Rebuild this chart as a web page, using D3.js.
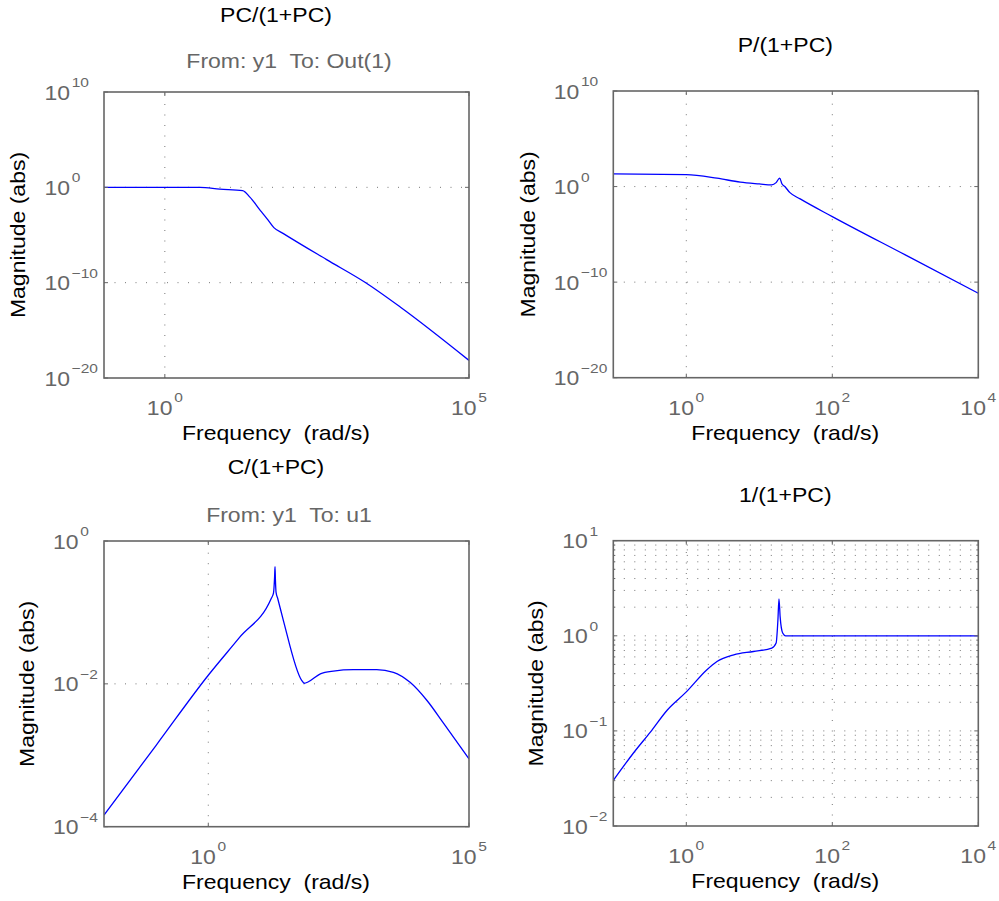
<!DOCTYPE html>
<html>
<head>
<meta charset="utf-8">
<script src="https://cdn.jsdelivr.net/npm/d3@7"></script>
<style>
  body { margin: 0; background: #fff; }
  svg text { font-family: "Liberation Sans", Arial, Helvetica, sans-serif; }
</style>
</head>
<body>
<svg id="chart" width="999" height="901" xmlns="http://www.w3.org/2000/svg"></svg>
<script>
// PC/(1+PC)
const pcFreq = [0.1, 1, 3.8, 8, 19, 25, 37, 48, 62, 89, 457, 1950, 7400, 1e5];
const pcMag  = [1, 1, 1, 0.66, 0.45, 0.095, 3.9e-3, 5e-4, 6e-5, 1.4e-5, 2.6e-8, 1.1e-10, 2.8e-13, 7e-19];
const pcXTicks = [0, 5];
const pcYTicks = [10, 0, -10, -20];

// P/(1+PC)
const ppcFreq = [0.1, 1, 2.63, 5.5, 10, 14.8, 17, 19, 20.4, 22.4, 26.3, 36.3, 100, 1000, 1e4];
const ppcMag  = [21, 18, 7.6, 2.9, 1.9, 1.5, 2.6, 7.6, 2.0, 1.0, 0.23, 0.051, 7.2e-4, 7e-8, 6.9e-12];
const ppcXTicks = [0, 2, 4];
const ppcYTicks = [10, 0, -10, -20];

// C/(1+PC)
const cpcFreq = [0.01, 0.1, 1, 3.98, 16.2, 17.8, 18.7, 19.05, 19.4, 19.95, 21.4, 27.5, 61.7, 69.2, 83.2,
                 141, 251, 603, 1700, 3550, 7410, 15500, 32400, 1e5];
const cpcMag  = [1.45e-4, 1.38e-3, 0.0132, 0.0447, 0.158, 0.186, 0.316, 0.437, 0.282, 0.191, 0.158, 0.0776,
                 0.0112, 0.0102, 0.0107, 0.0138, 0.0151, 0.0158, 0.0158, 0.0145, 0.0105, 0.00589, 0.00282, 8.9e-4];
const cpcXTicks = [0, 5];
const cpcYTicks = [0, -2, -4];

// 1/(1+PC)
const spcFreq = [0.1, 0.19, 0.324, 0.55, 1, 1.9, 2.63, 4.47, 8.3, 14.8, 17, 18, 18.6, 19.3, 20.9, 22.9, 100, 1e4];
const spcMag  = [0.0302, 0.0589, 0.0977, 0.166, 0.257, 0.437, 0.537, 0.631, 0.684, 0.741, 0.838, 1.48, 2.45,
                 1.58, 1.07, 1, 1, 1];
const spcXTicks = [0, 2, 4];
const spcYTicks = [1, 0, -1, -2];

const panels = [
  {title: 'PC/(1+PC)', sub: 'From: y1  To: Out(1)', freq: pcFreq, mag: pcMag,
   xTicks: pcXTicks, yTicks: pcYTicks, box: [104, 92, 469, 378], titleY: 21.7, subY: 67.5},
  {title: 'P/(1+PC)', sub: null, freq: ppcFreq, mag: ppcMag,
   xTicks: ppcXTicks, yTicks: ppcYTicks, box: [613.3, 91, 978.3, 377.7], xMin: -1, titleY: 51.5},
  {title: 'C/(1+PC)', sub: 'From: y1  To: u1', freq: cpcFreq, mag: cpcMag,
   xTicks: cpcXTicks, yTicks: cpcYTicks, box: [104, 541, 469, 826.7], xMin: -2, titleY: 474.3, subY: 521.5},
  {title: '1/(1+PC)', sub: null, freq: spcFreq, mag: spcMag,
   xTicks: spcXTicks, yTicks: spcYTicks, box: [613.3, 540.7, 978.3, 826], xMin: -1, titleY: 501.5, minorY: true}
];
panels[0].xMin = -1;

const SX = 1.15;           // glyphs are a bit wider than Arial
const GRAY = '#666';

const svg = d3.select('#chart');

function _text(g, x, y, str, size, fill, anchor, rotate) {
  return g.append('text')
      .attr('transform', 'translate(' + x + ',' + y + ')' + (rotate ? ' rotate(-90)' : '') + ' scale(' + SX + ',1)')
      .attr('text-anchor', anchor || 'middle')
      .attr('font-size', size)
      .attr('fill', fill)
      .style('white-space', 'pre')
      .text(str);
}

function _pow(g, x, y, e, anchor) {
  const t = g.append('text')
      .attr('transform', 'translate(' + x + ',' + y + ') scale(' + SX + ',1)')
      .attr('text-anchor', anchor)
      .attr('font-size', 20)
      .attr('fill', GRAY);
  t.append('tspan').text('10');
  t.append('tspan').attr('dx', 1.5).attr('dy', -12.5).attr('font-size', 13.5)
      .text(e < 0 ? '\u2212' + (-e) : String(e));
  return t;
}

panels.forEach((p, i) => {
  const [x0, y0, x1, y1] = p.box;
  const xLo = p.xMin, xHi = d3.max(p.xTicks);
  const yHi = d3.max(p.yTicks), yLo = d3.min(p.yTicks);
  const x = d3.scaleLog().domain([Math.pow(10, xLo), Math.pow(10, xHi)]).range([x0, x1]);
  const y = d3.scaleLog().domain([Math.pow(10, yLo), Math.pow(10, yHi)]).range([y1, y0]);
  const g = svg.append('g');

  // grid
  const grid = g.append('g').attr('stroke', '#777').attr('stroke-width', 1).attr('stroke-dasharray', '1,9.5');
  p.xTicks.filter(e => e > xLo && e < xHi).forEach(e => {
    grid.append('line').attr('x1', x(Math.pow(10, e))).attr('x2', x(Math.pow(10, e)))
        .attr('y1', y1).attr('y2', y0);
  });
  let yGrid = p.yTicks.filter(e => e > yLo && e < yHi).map(e => Math.pow(10, e));
  let yMinor = [];
  if (p.minorY) {
    d3.range(yLo, yHi).forEach(e => d3.range(2, 10).forEach(m => yMinor.push(m * Math.pow(10, e))));
    yGrid = yGrid.concat(yMinor);
  }
  yGrid.forEach(v => {
    grid.append('line').attr('x1', x0).attr('x2', x1).attr('y1', y(v)).attr('y2', y(v));
  });

  // curve
  const clipId = 'clip' + i;
  g.append('clipPath').attr('id', clipId).append('rect')
      .attr('x', x0).attr('y', y0).attr('width', x1 - x0).attr('height', y1 - y0);
  const line = d3.line().x(d => x(d[0])).y(d => y(d[1])).curve(d3.curveMonotoneX);
  g.append('path')
      .datum(d3.zip(p.freq, p.mag))
      .attr('clip-path', 'url(#' + clipId + ')')
      .attr('d', line)
      .attr('fill', 'none')
      .attr('stroke', '#0000ff')
      .attr('stroke-width', 1.3);

  // box and ticks
  g.append('rect').attr('x', x0).attr('y', y0).attr('width', x1 - x0).attr('height', y1 - y0)
      .attr('fill', 'none').attr('stroke', GRAY).attr('stroke-width', 1.6);
  const ticks = g.append('g').attr('stroke', GRAY).attr('stroke-width', 1);
  p.xTicks.forEach(e => {
    const px = x(Math.pow(10, e));
    ticks.append('line').attr('x1', px).attr('x2', px).attr('y1', y1).attr('y2', y1 - 4);
    ticks.append('line').attr('x1', px).attr('x2', px).attr('y1', y0).attr('y2', y0 + 4);
  });
  p.yTicks.map(e => ({v: Math.pow(10, e), l: 4})).concat(yMinor.map(v => ({v: v, l: 2}))).forEach(t => {
    const py = y(t.v);
    ticks.append('line').attr('x1', x0).attr('x2', x0 + t.l).attr('y1', py).attr('y2', py);
    ticks.append('line').attr('x1', x1).attr('x2', x1 - t.l).attr('y1', py).attr('y2', py);
  });

  // tick labels
  p.xTicks.forEach(e => _pow(g, x(Math.pow(10, e)), y1 + 36.8, e, 'middle'));
  const yl = p.yTicks.map(e => _pow(g, 0, y(Math.pow(10, e)) + 7.5, e, 'start'));
  const maxW = d3.max(yl, t => t.node().getBBox().width) * SX;
  const tickLeft = x0 - 6 - maxW;
  yl.forEach((t, k) => t.attr('transform', 'translate(' + tickLeft + ',' + (y(Math.pow(10, p.yTicks[k])) + 7.5) + ') scale(' + SX + ',1)'));

  // labels and titles
  const cx = (x0 + x1) / 2;
  _text(g, tickLeft - 19, (y0 + y1) / 2, 'Magnitude (abs)', 20, '#000', 'middle', true);
  _text(g, cx - 10.5, y1 + 62, 'Frequency  (rad/s)', 20, '#000');
  _text(g, cx - 10.5, p.titleY, p.title, 20, '#000');
  if (p.sub) _text(g, cx + 2.5, p.subY, p.sub, 20, GRAY);
});
</script>
</body>
</html>
